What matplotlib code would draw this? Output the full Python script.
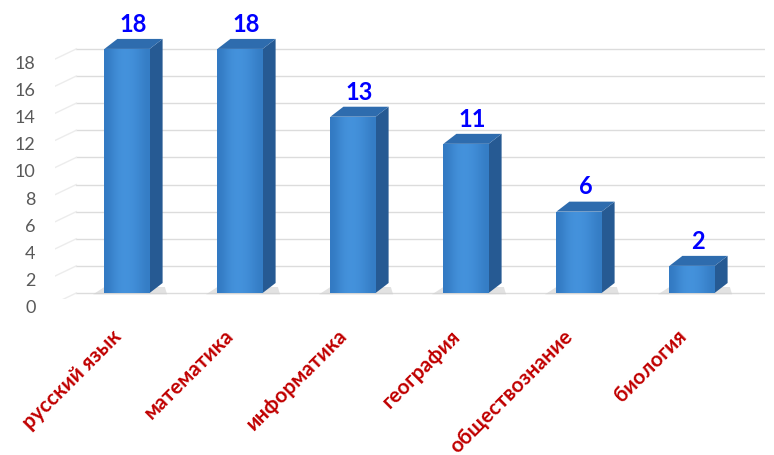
import matplotlib
matplotlib.use("Agg")
import matplotlib.pyplot as plt
import matplotlib.transforms as mtransforms
from matplotlib.patches import Polygon, Rectangle
import numpy as np

subjects = ["русский язык", "математика", "информатика", "география",
            "обществознание", "биология"]
counts = [18, 18, 13, 11, 6, 2]
y_ticks = [0, 2, 4, 6, 8, 10, 12, 14, 16, 18]

plt.rcParams['font.family'] = ['Lato', 'DejaVu Sans']

W, H = 774, 456
fig = plt.figure(figsize=(W / 100, H / 100), dpi=100)
fig.patch.set_facecolor('white')

# axes placed in pixels: left 55, right 765, bottom 300, top 0
px_per_cat = 113.0
px_per_unit = 13.56
x0_pix, x1_pix = 55, 765
y0_pix, y1_pix = 300, 0
ax = fig.add_axes([x0_pix / W, 1 - y0_pix / H, (x1_pix - x0_pix) / W, (y0_pix - y1_pix) / H])
ax.set_xlim((x0_pix - 127) / px_per_cat, (x1_pix - 127) / px_per_cat)
ax.set_ylim(-(y0_pix - 294) / px_per_unit, 294 / px_per_unit)
for s in ax.spines.values():
    s.set_visible(False)

w = 0.40
dx = 13 / px_per_cat
dy = 10 / px_per_unit

# back wall gridlines and side wall slants
blend = mtransforms.blended_transform_factory(ax.transAxes, ax.transData)
for t in y_ticks:
    ax.plot([0.03, 1.0], [t, t], color='#dcdcdc', lw=1.0, transform=blend, zorder=0)
    ax.plot([0.0, 0.03], [t - 0.75, t], color='#ececec', lw=1.0, transform=blend, zorder=0)

# floor edge
ax.plot([0.0, 0.965], [-0.55, -0.55], color='#d6d6d6', lw=2.0, transform=blend, zorder=0)

x = np.arange(len(subjects))
front_c = '#3a86d2'
side_c = '#265a93'
top_c = '#2e6cae'
for xi, v in zip(x, counts):
    # soft floor shadow
    ax.add_patch(Polygon([(xi - w / 2 - 0.10, -0.1), (xi + w / 2 + dx + 0.04, -0.1),
                          (xi + w / 2 + dx + 0.02, dy * 0.6), (xi - w / 2, dy * 0.6)],
                         closed=True, facecolor='#d0d0d0', edgecolor='none', alpha=0.6, zorder=1))
    ax.add_patch(Polygon([(xi + w / 2, 0), (xi + w / 2 + dx, dy), (xi + w / 2 + dx, v + dy), (xi + w / 2, v)],
                         closed=True, facecolor=side_c, edgecolor='none', zorder=2))
    ax.add_patch(Polygon([(xi - w / 2, v), (xi - w / 2 + dx, v + dy), (xi + w / 2 + dx, v + dy), (xi + w / 2, v)],
                         closed=True, facecolor=top_c, edgecolor='none', zorder=2))
    front = Rectangle((xi - w / 2, 0), w, v, facecolor=front_c, edgecolor='none', zorder=3)
    ax.add_patch(front)
    # soft horizontal gradient on the front face
    grad = np.array([[0.1, 0.45, 0.6, 0.55, 0.4, 0.15]])
    im = ax.imshow(grad, extent=(xi - w / 2, xi + w / 2, 0, v), aspect='auto',
                   cmap=matplotlib.colors.LinearSegmentedColormap.from_list('b', ['#2f75bd', '#4593dd']),
                   vmin=0, vmax=0.6, zorder=3.5, interpolation='bicubic')
    im.set_clip_path(front)
    ax.text(xi + dx / 2, v + dy, str(v), ha='center', va='bottom', color='#0000ff',
            fontsize=17, fontweight='bold', zorder=5,
            transform=ax.transData + mtransforms.ScaledTranslation(0, 3 / 72, fig.dpi_scale_trans))

# y tick labels (shifted down like the 3D axis)
ax.set_yticks(y_ticks)
ax.set_yticklabels([str(t) for t in y_ticks], fontsize=13, color='#595959')
ax.tick_params(axis='y', length=0, pad=14)
off = mtransforms.ScaledTranslation(0, -9 / 72, fig.dpi_scale_trans)
for lbl in ax.get_yticklabels():
    lbl.set_transform(lbl.get_transform() + off)

# x labels rotated
ax.set_xticks([])
xblend = mtransforms.blended_transform_factory(ax.transData, fig.transFigure)
for xi, name in zip(x, subjects):
    ax.text(xi - 0.08, 1 - 333 / H, name, rotation=45, rotation_mode='anchor',
            ha='right', va='center', color='#c00000', fontsize=15, fontweight='bold',
            transform=xblend, clip_on=False)

ax.set_facecolor('none')
fig.savefig('out.png', dpi=100)
